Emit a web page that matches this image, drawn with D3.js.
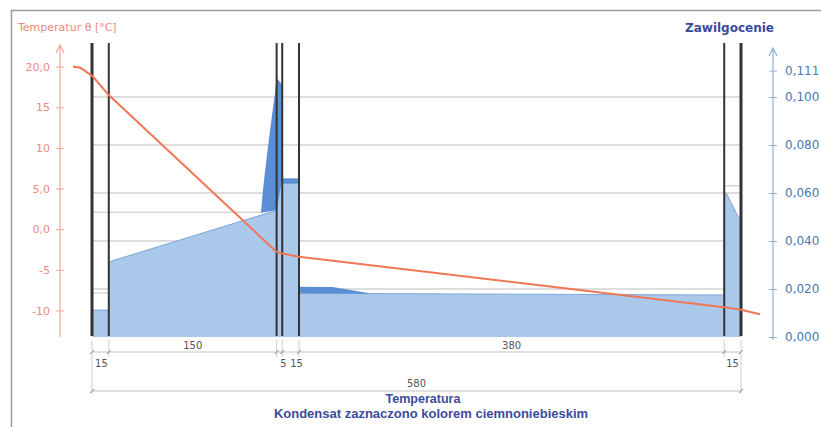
<!DOCTYPE html>
<html>
<head>
<meta charset="utf-8">
<script src="https://cdn.jsdelivr.net/npm/d3@7"></script>
<style>
  html, body { margin: 0; padding: 0; background: #fff; }
  #chart { width: 821px; height: 427px; }
</style>
</head>
<body>
<div id="chart"></div>
<script>
// layers of the wall, thickness in mm
const layerThickness = [15, 150, 5, 15, 380, 15];
const layerLabels = ["15", "150", "5", "15", "380", "15"];
const totalLabel = "580";

const tempTicks = [20, 15, 10, 5, 0, -5, -10];
const tempTickLabels = ["20,0", "15", "10", "5,0", "0,0", "-5", "-10"];
const moistTicks = [0, 0.02, 0.04, 0.06, 0.08, 0.1, 0.111];
const moistTickLabels = ["0,000", "0,020", "0,040", "0,060", "0,080", "0,100", "0,111"];

// temperature profile: position [mm] from inner surface, temperature [°C]
const tempX = [-17, -10.7, -6.3, -3.6, 0, 15, 165, 170, 185, 565, 580, 597];
const tempT = [20.0, 19.85, 19.5, 19.2, 18.9, 16.5, -2.8, -3.0, -3.4, -9.6, -9.9, -10.45];

// moisture content of the layers
const moistX = [0, 15, 15, 165, 165, 170, 170, 185, 185, 565, 565, 567, 578, 580];
const moistM = [0.0112, 0.0112, 0.0313, 0.0528, 0.066, 0.066, 0.064, 0.064, 0.0182, 0.0175, 0.060, 0.0598, 0.0496, 0.0496];

// condensate zones (top and bottom of the dark area)
const condAX = [151, 152.5, 155.5, 159.5, 163.5, 165, 170];
const condATop = [0.0517, 0.06, 0.0725, 0.0875, 0.1017, 0.108, 0.105];
const condABottom = [0.0517, 0.0519, 0.0521, 0.0524, 0.0527, 0.0528, 0.066];
const condBX = [170, 185];
const condBTop = [0.0661, 0.0661];
const condBBottom = [0.064, 0.064];
const condCX = [185, 215, 231, 248];
const condCTop = [0.0209, 0.0208, 0.0196, 0.0182];
const condCBottom = [0.0182, 0.0181, 0.0181, 0.0180];

// grid and extra guide lines (moisture values)
const gridM = [0.02, 0.04, 0.06, 0.08, 0.1];
const guideM = [0.052, 0.0183, 0.063];
const guideFrom = [0, 0, 565];
const guideTo = [153, 15, 580];

document.addEventListener('DOMContentLoaded', () => {
    const width = 821, height = 427;
    const svg = d3.select("#chart").append("svg")
        .attr("width", width)
        .attr("height", height);

    const bounds = [0];
    layerThickness.forEach(t => bounds.push(bounds[bounds.length - 1] + t));
    const total = bounds[bounds.length - 1];

    const x = d3.scaleLinear().domain([0, total]).range([92, 741]);
    const yT = d3.scaleLinear().domain([-10, 20]).range([310.5, 66.6]);
    const yM = d3.scaleLinear().domain([0, 0.1]).range([337, 97]);

    const grey = "#555";
    const lightBlue = "#a9c8ea";
    const darkBlue = "#5b8fd4";

    // frame
    svg.append("path")
        .attr("d", `M11.5,${height} V10.5 H${width}`)
        .attr("fill", "none")
        .attr("stroke", "#9a9a9a")
        .attr("stroke-width", 1.5);

    // grid
    svg.append("g").selectAll("line")
        .data(gridM)
        .enter().append("line")
        .attr("x1", x(0)).attr("x2", x(total))
        .attr("y1", d => yM(d)).attr("y2", d => yM(d))
        .attr("stroke", "#bdbdbd");

    svg.append("g").selectAll("line")
        .data(guideM)
        .enter().append("line")
        .attr("x1", (d, i) => x(guideFrom[i])).attr("x2", (d, i) => x(guideTo[i]))
        .attr("y1", d => yM(d)).attr("y2", d => yM(d))
        .attr("stroke", "#c4c4c4");

    // moisture
    const idx = n => d3.range(n);
    svg.append("path")
        .datum(idx(moistX.length))
        .attr("d", d3.area()
            .x(i => x(moistX[i]))
            .y0(yM(0))
            .y1(i => yM(moistM[i])))
        .attr("fill", lightBlue);

    svg.append("path")
        .datum(idx(moistX.length))
        .attr("d", d3.line()
            .x(i => x(moistX[i]))
            .y(i => yM(moistM[i])))
        .attr("fill", "none")
        .attr("stroke", "#7ca6d8")
        .attr("stroke-width", 1);

    function condensate(xs, top, bottom) {
        svg.append("path")
            .datum(idx(xs.length))
            .attr("d", d3.area()
                .x(i => x(xs[i]))
                .y0(i => yM(bottom[i]))
                .y1(i => yM(top[i])))
            .attr("fill", darkBlue);
    }
    condensate(condAX, condATop, condABottom);
    condensate(condBX, condBTop, condBBottom);
    condensate(condCX, condCTop, condCBottom);

    // walls between layers
    svg.append("g").selectAll("line")
        .data(bounds)
        .enter().append("line")
        .attr("x1", d => x(d)).attr("x2", d => x(d))
        .attr("y1", 43).attr("y2", 336)
        .attr("stroke", "#333")
        .attr("stroke-width", (d, i) => (i === 0 || i === bounds.length - 1) ? 3 : 2);

    // temperature
    svg.append("path")
        .datum(idx(tempX.length))
        .attr("d", d3.line()
            .x(i => x(tempX[i]))
            .y(i => yT(tempT[i])))
        .attr("fill", "none")
        .attr("stroke", "#f07656")
        .attr("stroke-width", 2);

    // left axis
    const axisL = svg.append("g")
        .attr("transform", "translate(60,0)")
        .call(d3.axisLeft(yT)
            .tickValues(tempTicks)
            .tickFormat((d, i) => tempTickLabels[i])
            .tickSize(4)
            .tickPadding(6));
    axisL.select(".domain").remove();
    axisL.selectAll("line").attr("x1", 4).attr("stroke", "#f2a697");
    axisL.selectAll("text")
        .attr("fill", "#ee8a79")
        .style("font", "11px 'DejaVu Sans'");
    axisL.append("path")
        .attr("d", "M0,45 V337 M-4,53 L0,45 L4,53")
        .attr("fill", "none")
        .attr("stroke", "#f2a697")
        .attr("stroke-width", 1.2);

    svg.append("text")
        .attr("x", 18).attr("y", 31)
        .attr("fill", "#ee8a79")
        .style("font", "11px 'DejaVu Sans'")
        .text("Temperatur θ [°C]");

    // right axis
    const axisR = svg.append("g")
        .attr("transform", "translate(773,0)")
        .call(d3.axisRight(yM)
            .tickValues(moistTicks)
            .tickFormat((d, i) => moistTickLabels[i])
            .tickSize(4)
            .tickPadding(8));
    axisR.select(".domain").remove();
    axisR.selectAll("line").attr("x1", -4).attr("stroke", "#8fb0d3");
    axisR.selectAll("text")
        .attr("fill", "#4a79b3")
        .style("font", "12px 'DejaVu Sans'");
    axisR.append("path")
        .attr("d", "M0,48 V340 M-4,56 L0,48 L4,56")
        .attr("fill", "none")
        .attr("stroke", "#8fb0d3")
        .attr("stroke-width", 1.2);

    svg.append("text")
        .attr("x", 774).attr("y", 32)
        .attr("text-anchor", "end")
        .attr("fill", "#3b4a9c")
        .style("font", "bold 12px 'DejaVu Sans'")
        .text("Zawilgocenie");

    // dimension lines
    const dim = svg.append("g");
    const row1 = 352, row2 = 391;
    dim.selectAll(".ext")
        .data(bounds)
        .enter().append("line")
        .attr("x1", d => x(d)).attr("x2", d => x(d))
        .attr("y1", 340)
        .attr("y2", (d, i) => (i === 0 || i === bounds.length - 1) ? row2 + 3 : row1 + 5)
        .attr("stroke", "#cfcfcf");
    dim.append("line")
        .attr("x1", x(0)).attr("x2", x(total))
        .attr("y1", row1).attr("y2", row1)
        .attr("stroke", "#c2c2c2");
    dim.append("line")
        .attr("x1", x(0)).attr("x2", x(total))
        .attr("y1", row2).attr("y2", row2)
        .attr("stroke", "#c2c2c2");
    dim.selectAll(".tick1")
        .data(bounds)
        .enter().append("line")
        .attr("x1", d => x(d) - 2).attr("x2", d => x(d) + 2)
        .attr("y1", row1 + 2).attr("y2", row1 - 2)
        .attr("stroke", "#888");
    dim.selectAll(".tick2")
        .data([0, total])
        .enter().append("line")
        .attr("x1", d => x(d) - 2).attr("x2", d => x(d) + 2)
        .attr("y1", row2 + 2).attr("y2", row2 - 2)
        .attr("stroke", "#888");

    // labels: wide layers above the line, narrow ones below
    const labelShift = [1, 0, 4, 6, 0, 0];
    dim.selectAll(".lab")
        .data(layerThickness)
        .enter().append("text")
        .attr("x", (d, i) => x((bounds[i] + bounds[i + 1]) / 2) + labelShift[i])
        .attr("y", d => d >= 100 ? row1 - 3 : row1 + 15)
        .attr("text-anchor", "middle")
        .attr("fill", grey)
        .style("font", d => d >= 100 ? "10px 'DejaVu Sans'" : "11px 'DejaVu Sans Condensed'")
        .text((d, i) => layerLabels[i]);

    dim.append("text")
        .attr("x", x(total / 2)).attr("y", row2 - 4)
        .attr("text-anchor", "middle")
        .attr("fill", grey)
        .style("font", "11px 'DejaVu Sans Condensed'")
        .text(totalLabel);

    svg.append("text")
        .attr("x", 423).attr("y", 403)
        .attr("text-anchor", "middle")
        .attr("fill", "#3d4b9b")
        .style("font", "bold 12.5px 'Liberation Sans'")
        .text("Temperatura");
    svg.append("text")
        .attr("x", 431).attr("y", 418)
        .attr("text-anchor", "middle")
        .attr("fill", "#3d4b9b")
        .style("font", "bold 13px 'Liberation Sans'")
        .text("Kondensat zaznaczono kolorem ciemnoniebieskim");
});
</script>
</body>
</html>
